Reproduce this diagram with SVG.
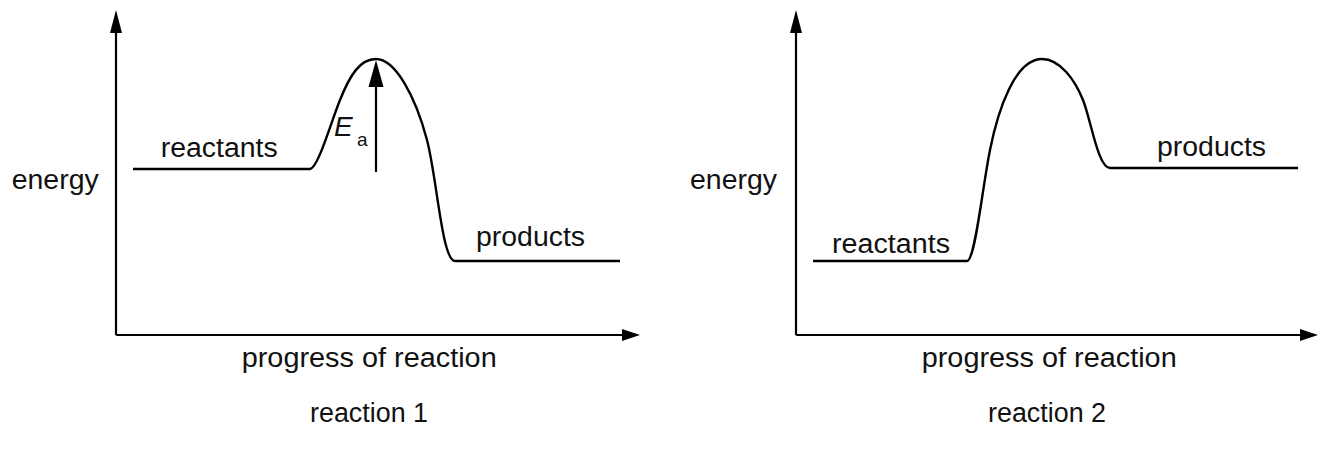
<svg xmlns="http://www.w3.org/2000/svg" width="1319" height="452" viewBox="0 0 1319 452">
  <style>
    .axis { fill: none; stroke: #000; stroke-width: 2.2; }
    .curve { fill: none; stroke: #000; stroke-width: 2.4; stroke-linejoin: round; }
    .head { fill: #000; stroke: none; }
    text { font-family: "Liberation Sans", Arial, Helvetica, sans-serif; font-size: 27px; fill: #111; }
    .sym { font-style: italic; font-size: 28px; }
    .sub { font-size: 19px; }
  </style>

  <!-- reaction 1: exothermic profile -->
  <g id="chart1">
    <g id="chart1-axes">
      <path class="axis" d="M116,335 V30 M116,335 H624"/>
      <polygon class="head" points="116,10 110,33 122,33"/>
      <polygon class="head" points="640,335 622,329 622,341"/>
    </g>
    <g id="chart1-profile">
      <path class="curve" d="M133,169 H310 C318,168 330,125 340,100 C350,75 360,59 376,59 C395,59 415,95 427,140 C437,178 442,261 455,261 H620"/>
    </g>
    <g id="chart1-ea">
      <line class="axis" x1="376" y1="172" x2="376" y2="84"/>
      <polygon class="head" points="376,60 368.5,87 383.5,87"/>
      <text class="sym" x="334" y="136">E</text>
      <text class="sub" x="357" y="146">a</text>
    </g>
    <g id="chart1-labels">
      <text x="11.7" y="189" textLength="87" lengthAdjust="spacingAndGlyphs">energy</text>
      <text x="160.7" y="157" textLength="117" lengthAdjust="spacingAndGlyphs">reactants</text>
      <text x="476" y="246" textLength="109" lengthAdjust="spacingAndGlyphs">products</text>
      <text x="241.7" y="367" textLength="255" lengthAdjust="spacingAndGlyphs">progress of reaction</text>
      <text x="310" y="422" textLength="118" lengthAdjust="spacingAndGlyphs">reaction 1</text>
    </g>
  </g>

  <!-- reaction 2: endothermic profile -->
  <g id="chart2">
    <g id="chart2-axes">
      <path class="axis" d="M796,335 V30 M796,335 H1300"/>
      <polygon class="head" points="796,10 790,33 802,33"/>
      <polygon class="head" points="1318,335 1300,329 1300,341"/>
    </g>
    <g id="chart2-profile">
      <path class="curve" d="M813,261 H967 C975,261 982,190 990,150 C998,110 1015,59 1042,59 C1060,59 1075,80 1083,100 C1091,120 1098,168 1110,168 H1298"/>
    </g>
    <g id="chart2-labels">
      <text x="690" y="189" textLength="87" lengthAdjust="spacingAndGlyphs">energy</text>
      <text x="832" y="253" textLength="118" lengthAdjust="spacingAndGlyphs">reactants</text>
      <text x="1157" y="156" textLength="109" lengthAdjust="spacingAndGlyphs">products</text>
      <text x="921.7" y="367" textLength="255" lengthAdjust="spacingAndGlyphs">progress of reaction</text>
      <text x="988" y="422" textLength="118" lengthAdjust="spacingAndGlyphs">reaction 2</text>
    </g>
  </g>
</svg>
